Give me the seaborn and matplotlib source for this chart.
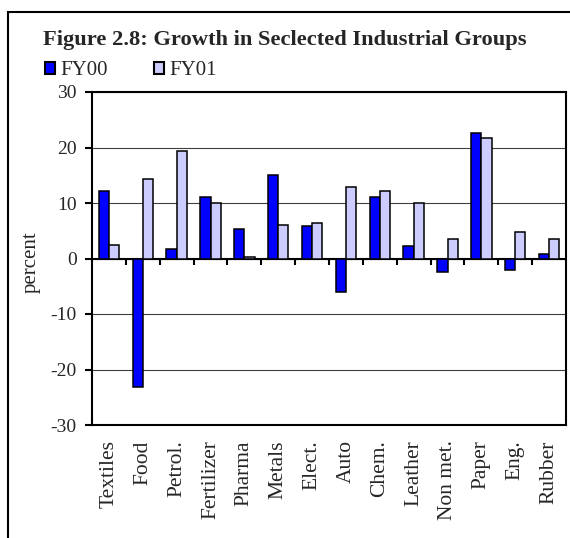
import numpy as np
import pandas as pd
import seaborn as sns
import matplotlib
matplotlib.use("Agg")
import matplotlib.pyplot as plt
from matplotlib.patches import Rectangle

categories = ["Textiles", "Food", "Petrol.", "Fertilizer", "Pharma", "Metals", "Elect.",
              "Auto", "Chem.", "Leather", "Non met.", "Paper", "Eng.", "Rubber"]
fy00 = [12.1, -23.2, 1.7, 11.1, 5.4, 15.0, 5.8, -6.1, 11.1, 2.2, -2.5, 22.6, -2.1, 0.8]
fy01 = [2.5, 14.3, 19.3, 10.0, 0.3, 6.1, 6.4, 12.9, 12.2, 10.0, 3.6, 21.8, 4.7, 3.6]
series = ["FY00", "FY01"]
yticks = [-30, -20, -10, 0, 10, 20, 30]
title = "Figure 2.8: Growth in Seclected Industrial Groups"

df = pd.DataFrame({
    "category": categories * 2,
    "value": fy00 + fy01,
    "series": [series[0]] * len(categories) + [series[1]] * len(categories),
})

sns.set_style("white")
plt.rcParams["font.family"] = ["Liberation Serif", "DejaVu Serif"]

W, H = 570, 538
fig = plt.figure(figsize=(W / 100, H / 100), dpi=100)
ax = fig.add_axes([92 / W, 1 - 425 / H, 474 / W, 333 / H])

sns.barplot(data=df, x="category", y="value", hue="series", order=categories,
            hue_order=series, palette=["#0000FF", "#CCCCFF"], width=0.6, gap=0,
            edgecolor="black", linewidth=1.1, saturation=1, errorbar=None, ax=ax,
            zorder=3)

ax.set_ylim(-30, 30)
ax.set_xlim(-0.5, len(categories) - 0.5)
ax.set_yticks(yticks)
ax.set_yticklabels([str(v) for v in yticks])
ax.yaxis.grid(True, color="#404040", lw=0.8)
ax.xaxis.grid(False)
ax.set_axisbelow(True)

ax.axhline(0, color="black", lw=1.5, zorder=2)
ax.vlines(np.arange(0.5, len(categories) - 0.5), -1.1, 0, color="black", lw=1.5, zorder=2)

for s in ax.spines.values():
    s.set_visible(True)
    s.set_color("black")
    s.set_linewidth(1.5)

ax.tick_params(axis="y", left=True, direction="out", length=5, width=1.5,
               labelsize=14, pad=6, color="black")
ax.tick_params(axis="x", bottom=False, length=0, pad=11, labelsize=15.5)
for lab in ax.get_xticklabels():
    lab.set_rotation(90)
    lab.set_va("top")
    lab.set_ha("center")

ax.set_xlabel("")
ax.set_ylabel("percent", fontsize=15)
ax.yaxis.set_label_coords((41 - 92) / 474, (425 - 262) / 333)

sns.move_legend(ax, "upper left", bbox_to_anchor=(45 / W, 1 - 61 / H),
                bbox_transform=fig.transFigure, ncol=2, frameon=False, title=None,
                fontsize=15, handlelength=0.5, handleheight=0.5, handletextpad=0.25,
                columnspacing=2.2, borderpad=0, borderaxespad=0)
leg = ax.get_legend()
for h in leg.legend_handles:
    h.set_edgecolor("black")
    h.set_linewidth(1.5)

fig.text(43 / W, 1 - 45 / H, title, fontsize=16.2, fontweight="bold",
         ha="left", va="baseline")

fig.add_artist(Rectangle((8 / W, -0.5), 2, 1 - 12 / H + 0.5, transform=fig.transFigure,
                         fill=False, lw=1.5, ec="black"))

fig.savefig("out.png", dpi=100)
